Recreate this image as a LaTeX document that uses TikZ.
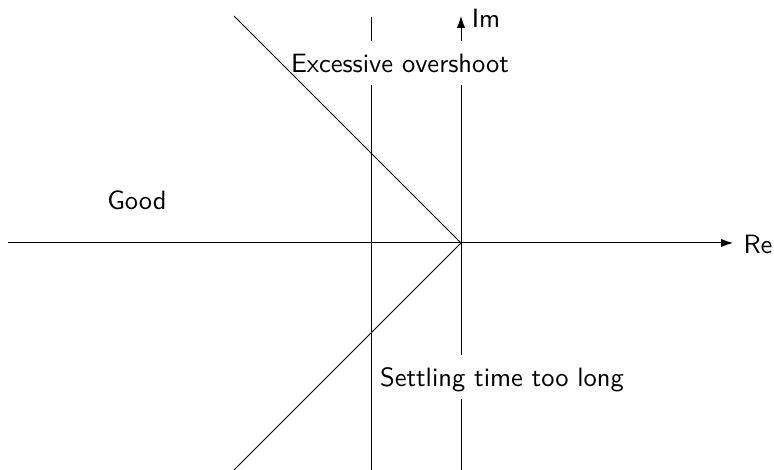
\documentclass[tikz,border=0pt]{standalone}
\usetikzlibrary{arrows.meta}
\begin{document}
\begin{tikzpicture}[x=0.4pt,y=-0.4pt,
  every node/.style={font=\sffamily\fontsize{10.6}{12.7}\selectfont},
  axis/.style={thin,-{Latex[length=4.8pt,width=3.4pt]}},
  boundary/.style={thin},
  maskedlabel/.style={fill=white,inner xsep=1pt,inner ysep=3.6pt,
    text height=9.2pt,text depth=1.4pt}]
\useasboundingbox (0,0) rectangle (774,470);
% coordinates
\coordinate (O) at (461,243);
\coordinate (reL) at (8,243);
\coordinate (reR) at (733,243);
\coordinate (imB) at (461,470);
\coordinate (imT) at (461,16);
\coordinate (vT) at (371,17);
\coordinate (vB) at (371,470);
\coordinate (dT) at (234,16);
\coordinate (dB) at (234,470);
% axes and boundary
\draw[axis] (reL) -- (reR);
\draw[axis] (imB) -- (imT);
\draw[boundary] (vB) -- (vT);
% labels
\node (re) at (758,244) {Re};
\node (im) at (486,18) {Im};
\node (good) at (137,200) {Good};
\node[maskedlabel] (exc) at (400,63) {Excessive overshoot};
\node[maskedlabel] (settle) at (502,377) {Settling time too long};
% damping lines
\draw[boundary] (O) -- (dT);
\draw[boundary] (O) -- (dB);
\end{tikzpicture}
\end{document}
